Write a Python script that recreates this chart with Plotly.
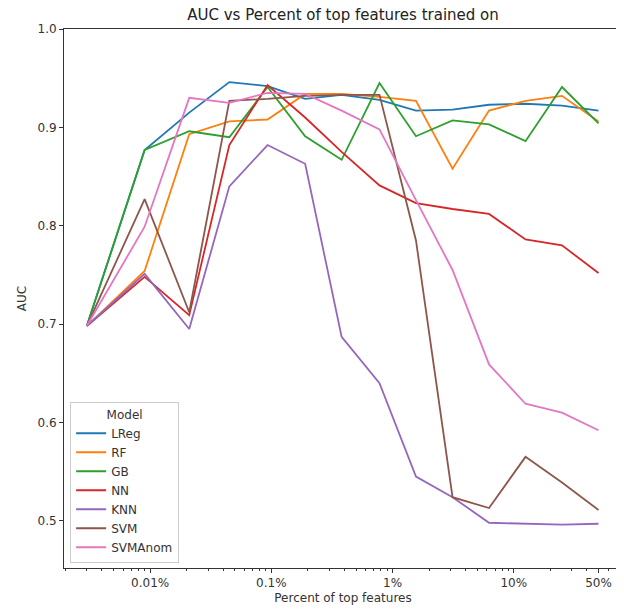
import plotly.graph_objects as go

# Percent of top features (x values)
pct = [0.003, 0.009, 0.021, 0.045, 0.093, 0.19, 0.38, 0.78, 1.56, 3.125, 6.25, 12.5, 25, 50]

models = ["LReg", "RF", "GB", "NN", "KNN", "SVM", "SVMAnom"]
colors = ["#1f77b4", "#ff7f0e", "#2ca02c", "#d62728", "#9467bd", "#8c564b", "#e377c2"]

lreg = [0.698, 0.877, 0.915, 0.946, 0.942, 0.929, 0.933, 0.928, 0.917, 0.918, 0.923, 0.924, 0.922, 0.917]
rf = [0.698, 0.754, 0.893, 0.906, 0.908, 0.934, 0.934, 0.931, 0.927, 0.858, 0.917, 0.927, 0.932, 0.906]
gb = [0.698, 0.877, 0.896, 0.890, 0.941, 0.891, 0.867, 0.945, 0.891, 0.907, 0.903, 0.886, 0.941, 0.904]
nn = [0.698, 0.748, 0.709, 0.882, 0.943, 0.910, 0.875, 0.841, 0.823, 0.817, 0.812, 0.786, 0.780, 0.752]
knn = [0.698, 0.751, 0.695, 0.840, 0.882, 0.863, 0.687, 0.640, 0.545, 0.524, 0.498, 0.497, 0.496, 0.497]
svm = [0.698, 0.827, 0.712, 0.927, 0.929, 0.932, 0.933, 0.933, 0.785, 0.524, 0.513, 0.565, 0.539, 0.511]
svmanom = [0.698, 0.799, 0.930, 0.925, 0.935, 0.934, 0.917, 0.898, 0.826, 0.755, 0.659, 0.619, 0.610, 0.592]

series = [lreg, rf, gb, nn, knn, svm, svmanom]

major_vals = [0.01, 0.1, 1, 10, 50]
major_text = ["0.01%", "0.1%", "1%", "10%", "50%"]
minor_vals = []
for dec in [0.001, 0.01, 0.1, 1, 10]:
    for m in range(2, 10):
        v = round(dec * m, 6)
        if v not in major_vals and 0.00195 <= v <= 78:
            minor_vals.append(v)

fig = go.Figure()
for name, ys, c in zip(models, series, colors):
    fig.add_trace(go.Scatter(x=pct, y=ys, mode="lines", name=name,
                             line=dict(color=c, width=1.8)))

axis_common = dict(showline=True, linecolor="#333", linewidth=1, mirror=True,
                   showgrid=False, zeroline=False, ticks="outside", ticklen=4,
                   tickcolor="#333", tickfont=dict(size=12, color="#333"))

fig.update_layout(
    width=616, height=605,
    margin=dict(l=56, r=2, t=21, b=45),
    paper_bgcolor="white", plot_bgcolor="white",
    font=dict(family="DejaVu Sans", color="#333"),
    title=dict(text="AUC vs Percent of top features trained on", x=0.5, xref="paper",
               xanchor="center", y=0.989, yanchor="middle", font=dict(size=15, color="#222")),
    xaxis=dict(type="log", range=[-2.711, 1.893], tickvals=major_vals, ticktext=major_text,
               minor=dict(tickvals=minor_vals, ticks="outside", ticklen=2, tickcolor="#333"),
               title=dict(text="Percent of top features", font=dict(size=12, color="#333"), standoff=4),
               **axis_common),
    yaxis=dict(range=[0.452, 1.0], tickvals=[0.5, 0.6, 0.7, 0.8, 0.9, 1.0], tickformat=".1f",
               title=dict(text="AUC", font=dict(size=12, color="#333"), standoff=8),
               **axis_common),
    legend=dict(x=0.011, y=0.009, xanchor="left", yanchor="bottom",
                bgcolor="rgba(255,255,255,0.8)", bordercolor="#ccc", borderwidth=1,
                font=dict(size=12, color="#333"),
                title=dict(text="Model", side="top center", font=dict(size=12, color="#333")),
                itemwidth=30, tracegroupgap=0),
)

fig.write_html("out.html")
